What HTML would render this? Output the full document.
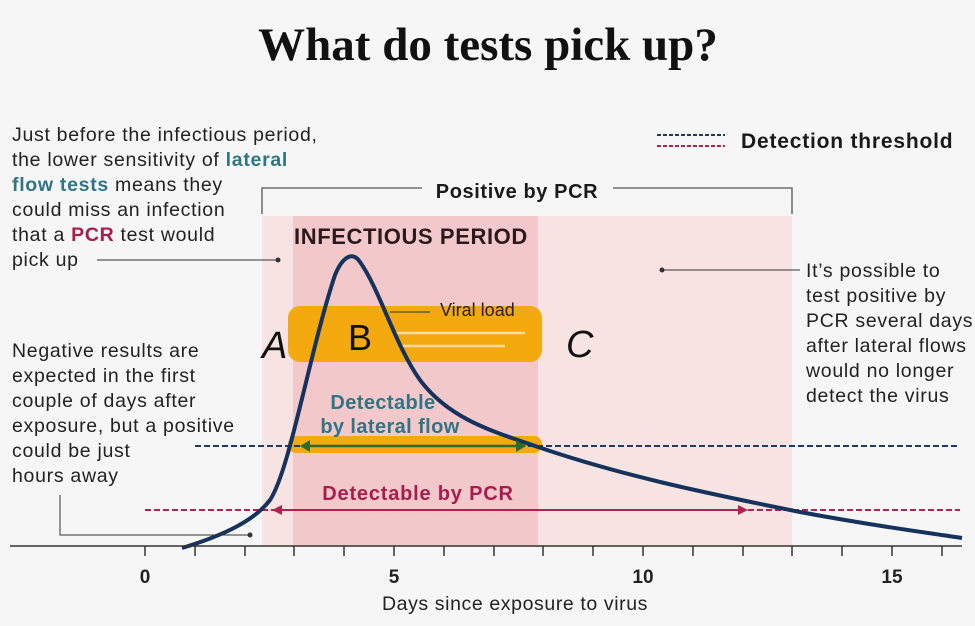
<!DOCTYPE html>
<html><head><meta charset="utf-8"><style>
html,body{margin:0;padding:0;background:#f6f6f6}
svg{display:block}
text{font-family:"Liberation Sans",sans-serif}
</style></head><body>
<svg width="975" height="626" viewBox="0 0 975 626" xmlns="http://www.w3.org/2000/svg">
<rect width="975" height="626" fill="#f6f6f6"/>
<text x="488" y="60" text-anchor="middle" font-weight="bold" font-size="47" fill="#111" style="font-family:'Liberation Serif',serif">What do tests pick up?</text>

<rect x="262" y="216" width="530" height="330" fill="#f8e3e3"/>
<rect x="293" y="216" width="245" height="330" fill="#f3c8ca"/>

<!-- bracket -->
<path d="M262,214 V188 H422 M613,188 H792 V214" fill="none" stroke="#555" stroke-width="1.3"/>
<text x="517" y="198" text-anchor="middle" font-weight="bold" font-size="20" letter-spacing="0.6" fill="#1a1a1a">Positive by PCR</text>
<text x="294" y="244" font-weight="bold" font-size="22" letter-spacing="0.6" fill="#2a1a1a">INFECTIOUS PERIOD</text>

<!-- yellow highlights -->
<rect x="288" y="306" width="254" height="56" rx="12" fill="#f4a90f"/>
<rect x="288" y="436" width="254" height="17" rx="8" fill="#f4a90f"/>
<path d="M390,312 H430" stroke="#333" stroke-width="1"/>
<text x="440" y="316" font-size="18" fill="#222">Viral load</text>
<path d="M395,333 H525 M400,346 H505" stroke="#f8d9a0" stroke-width="2.5"/>

<!-- thresholds -->
<line x1="195" y1="446" x2="960" y2="446" stroke="#1f3b63" stroke-width="2" stroke-dasharray="6,3"/>
<line x1="145" y1="510" x2="960" y2="510" stroke="#b0224f" stroke-width="2" stroke-dasharray="6,3"/>

<!-- curve -->
<path d="M182,548 C225,535 255,520 270,500 C290,470 310,350 335,275 C342,258 352,250 360,262 C380,290 395,345 420,380 C450,420 495,432 538,447 C620,475 700,492 800,512 C880,527 930,533 962,538" fill="none" stroke="#15335c" stroke-width="4"/>

<!-- arrows -->
<line x1="306" y1="446" x2="520" y2="446" stroke="#2e6b2a" stroke-width="2.5"/>
<path d="M300,446 l10,-6 v12 z M526,446 l-10,-6 v12 z" fill="#2e6b2a"/>
<line x1="278" y1="510" x2="742" y2="510" stroke="#b0224f" stroke-width="2"/>
<path d="M272,510 l10,-5 v10 z M748,510 l-10,-5 v10 z" fill="#b0224f"/>
<text x="383" y="409" text-anchor="middle" font-weight="bold" font-size="20" letter-spacing="0.4" fill="#2f7585">Detectable</text>
<text x="390" y="433" text-anchor="middle" font-weight="bold" font-size="20" letter-spacing="0.4" fill="#2f7585">by lateral flow</text>
<text x="418" y="500" text-anchor="middle" font-weight="bold" font-size="20" letter-spacing="0.8" fill="#a81d4c">Detectable by PCR</text>

<!-- handwritten letters -->
<text x="262" y="358" font-size="38" fill="#111" font-style="italic">A</text>
<text x="348" y="350" font-size="36" fill="#111">B</text>
<text x="566" y="357" font-size="38" fill="#111" font-style="italic">C</text>

<!-- axis -->
<line x1="10" y1="546" x2="962" y2="546" stroke="#333" stroke-width="1.5"/>
<g stroke="#333" stroke-width="1.5">
<line x1="145" y1="546" x2="145" y2="556"/><line x1="195" y1="546" x2="195" y2="556"/><line x1="245" y1="546" x2="245" y2="556"/><line x1="294" y1="546" x2="294" y2="556"/><line x1="344" y1="546" x2="344" y2="556"/><line x1="394" y1="546" x2="394" y2="556"/><line x1="444" y1="546" x2="444" y2="556"/><line x1="494" y1="546" x2="494" y2="556"/><line x1="543" y1="546" x2="543" y2="556"/><line x1="593" y1="546" x2="593" y2="556"/><line x1="643" y1="546" x2="643" y2="556"/><line x1="693" y1="546" x2="693" y2="556"/><line x1="743" y1="546" x2="743" y2="556"/><line x1="792" y1="546" x2="792" y2="556"/><line x1="842" y1="546" x2="842" y2="556"/><line x1="892" y1="546" x2="892" y2="556"/><line x1="942" y1="546" x2="942" y2="556"/>
</g>
<g font-weight="bold" font-size="19" fill="#222" text-anchor="middle">
<text x="145" y="583">0</text><text x="394" y="583">5</text><text x="643" y="583">10</text><text x="892" y="583">15</text>
</g>
<text x="515" y="610" text-anchor="middle" font-size="19.5" letter-spacing="0.6" fill="#222">Days since exposure to virus</text>

<!-- legend -->
<line x1="657" y1="135" x2="725" y2="135" stroke="#1f3b63" stroke-width="2" stroke-dasharray="4,2"/>
<line x1="657" y1="146" x2="725" y2="146" stroke="#b0224f" stroke-width="2" stroke-dasharray="4,2"/>
<text x="741" y="148" font-weight="bold" font-size="21" letter-spacing="0.8" fill="#1a1a1a">Detection threshold</text>

<!-- left annotations -->
<g font-size="19.5" letter-spacing="0.7" fill="#222">
<text x="12" y="141">Just before the infectious period,</text>
<text x="12" y="166">the lower sensitivity of <tspan font-weight="bold" fill="#2f7585">lateral</tspan></text>
<text x="12" y="191"><tspan font-weight="bold" fill="#2f7585">flow tests</tspan> means they</text>
<text x="12" y="216">could miss an infection</text>
<text x="12" y="241">that a <tspan font-weight="bold" fill="#a81d4c">PCR</tspan> test would</text>
<text x="12" y="266">pick up</text>
<text x="12" y="357">Negative results are</text>
<text x="12" y="382">expected in the first</text>
<text x="12" y="407">couple of days after</text>
<text x="12" y="432">exposure, but a positive</text>
<text x="12" y="457">could be just</text>
<text x="12" y="482">hours away</text>
<text x="806" y="277">It’s possible to</text>
<text x="806" y="302">test positive by</text>
<text x="806" y="327">PCR several days</text>
<text x="806" y="352">after lateral flows</text>
<text x="806" y="377">would no longer</text>
<text x="806" y="402">detect the virus</text>
</g>
<g stroke="#333" stroke-width="1" fill="#333">
<line x1="97" y1="260" x2="278" y2="260"/><circle cx="278" cy="260" r="2"/>
<path d="M60,495 V535 H250" fill="none"/><circle cx="250" cy="535" r="2"/>
<line x1="662" y1="270" x2="800" y2="270"/><circle cx="662" cy="270" r="2"/>
</g>
</svg>
</body></html>
